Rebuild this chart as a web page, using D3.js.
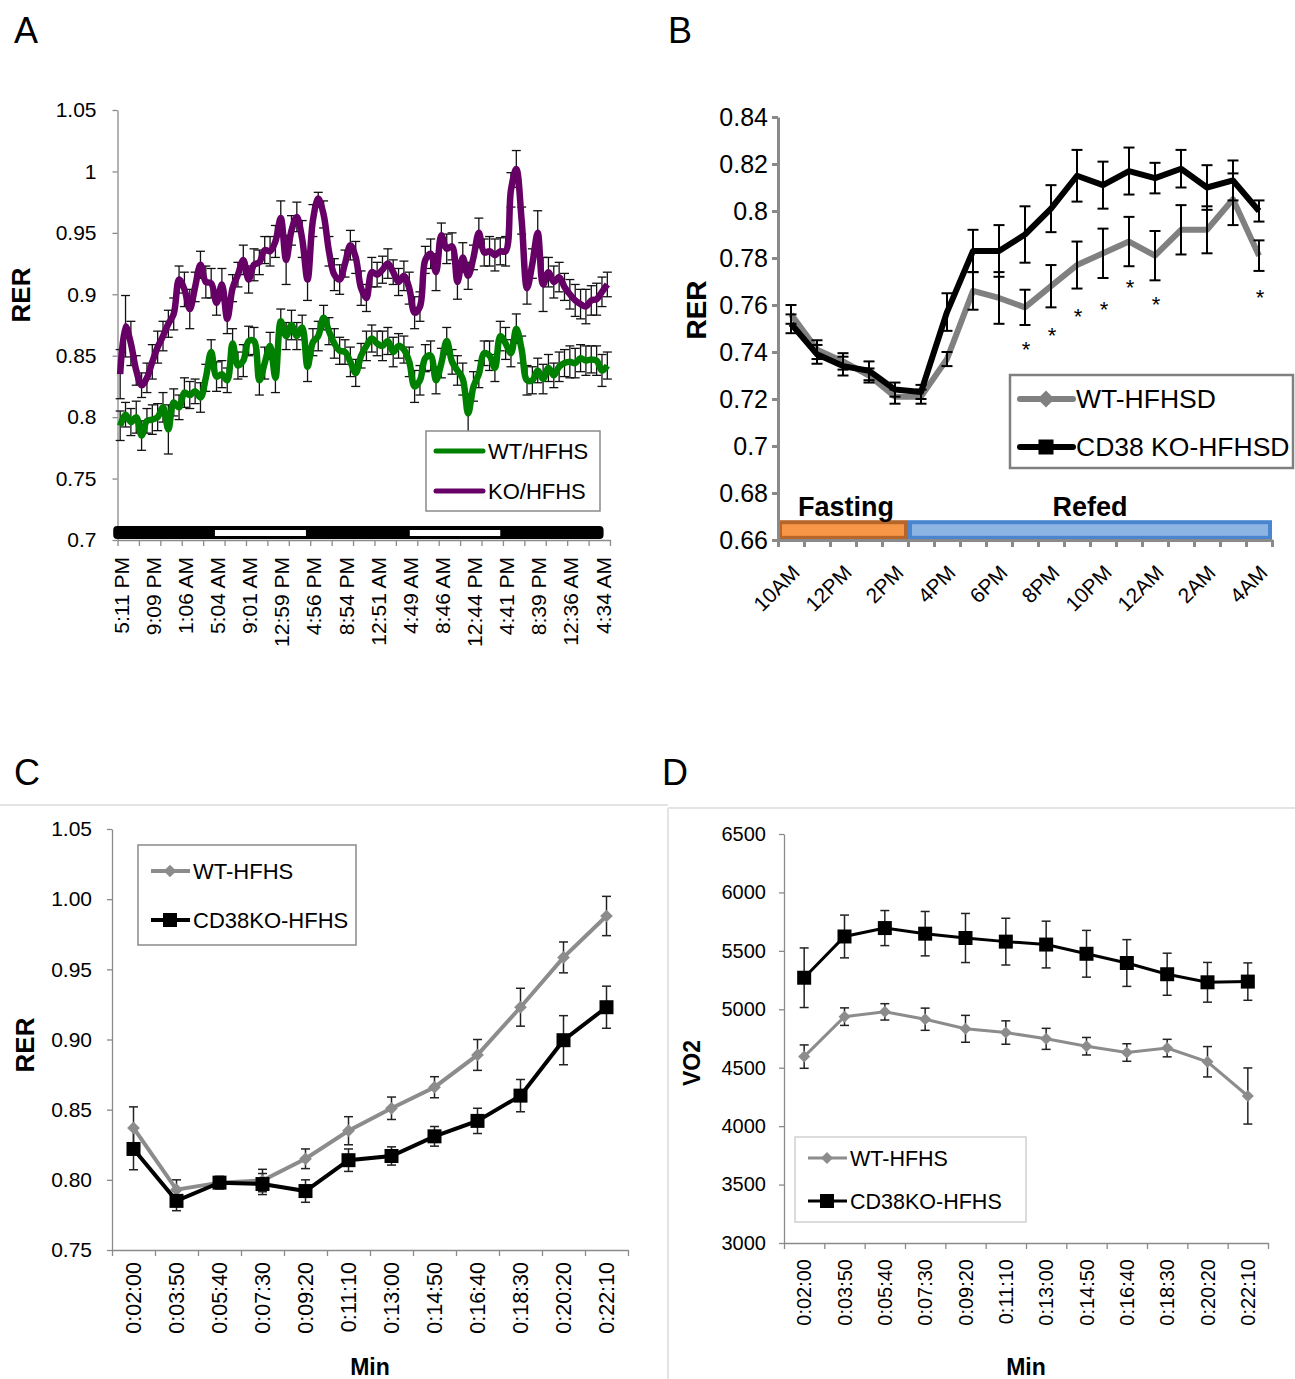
<!DOCTYPE html>
<html>
<head>
<meta charset="utf-8">
<script src="https://cdn.jsdelivr.net/npm/d3@7"></script>
<style>
  body { margin: 0; background: #fff; }
  svg { display: block; font-family: "Liberation Sans", Arial, sans-serif; }
</style>
</head>
<body>
<div id="chart"></div>
<script>
// ---------- Panel A : RER over ~3 days (92 samples) ----------
const aXLabels = ["5:11 PM","9:09 PM","1:06 AM","5:04 AM","9:01 AM","12:59 PM","4:56 PM","8:54 PM",
  "12:51 AM","4:49 AM","8:46 AM","12:44 PM","4:41 PM","8:39 PM","12:36 AM","4:34 AM"];
const aYTicks = [0.7, 0.75, 0.8, 0.85, 0.9, 0.95, 1, 1.05];
const aYTickLabels = ["0.7","0.75","0.8","0.85","0.9","0.95","1","1.05"];
const aWT = [0.793,0.802,0.796,0.800,0.785,0.797,0.798,0.800,0.808,0.790,
  0.812,0.808,0.820,0.818,0.821,0.816,0.832,0.853,0.833,0.835,
  0.830,0.860,0.842,0.846,0.862,0.862,0.830,0.844,0.858,0.832,
  0.878,0.866,0.875,0.866,0.873,0.841,0.861,0.866,0.881,0.870,
  0.860,0.854,0.853,0.845,0.836,0.850,0.858,0.864,0.860,0.858,
  0.862,0.853,0.858,0.855,0.845,0.825,0.830,0.848,0.850,0.830,
  0.844,0.862,0.845,0.838,0.831,0.803,0.825,0.835,0.852,0.850,
  0.840,0.866,0.860,0.852,0.872,0.855,0.830,0.830,0.838,0.831,
  0.840,0.834,0.841,0.844,0.845,0.844,0.848,0.846,0.847,0.846,
  0.838,0.842];
const aWTsem = [0.012,0.010,0.011,0.013,0.012,0.010,0.012,0.011,0.012,0.020,
  0.011,0.010,0.012,0.011,0.010,0.012,0.011,0.010,0.012,0.011,
  0.010,0.012,0.011,0.013,0.012,0.011,0.012,0.013,0.011,0.012,
  0.010,0.011,0.012,0.011,0.010,0.012,0.011,0.012,0.010,0.011,
  0.012,0.011,0.010,0.012,0.011,0.010,0.012,0.011,0.010,0.012,
  0.011,0.012,0.010,0.011,0.012,0.013,0.012,0.011,0.012,0.011,
  0.012,0.011,0.010,0.012,0.013,0.016,0.012,0.011,0.010,0.012,
  0.011,0.012,0.013,0.011,0.012,0.011,0.012,0.011,0.010,0.012,
  0.011,0.010,0.012,0.011,0.013,0.012,0.011,0.012,0.011,0.012,
  0.013,0.011];
const aKO = [0.835,0.874,0.860,0.838,0.826,0.832,0.845,0.857,0.866,0.876,
  0.884,0.912,0.904,0.888,0.906,0.924,0.910,0.909,0.893,0.908,
  0.880,0.905,0.916,0.928,0.912,0.924,0.926,0.936,0.935,0.943,
  0.962,0.928,0.952,0.963,0.945,0.912,0.960,0.978,0.965,0.935,
  0.916,0.912,0.925,0.940,0.930,0.905,0.897,0.918,0.916,0.920,
  0.925,0.918,0.910,0.915,0.905,0.885,0.890,0.928,0.933,0.918,
  0.948,0.937,0.939,0.910,0.930,0.915,0.930,0.950,0.934,0.935,
  0.932,0.935,0.935,0.985,1.002,0.960,0.905,0.925,0.950,0.908,
  0.918,0.910,0.914,0.906,0.900,0.895,0.892,0.890,0.895,0.896,
  0.902,0.908];
const aKOsem = [0.020,0.025,0.018,0.012,0.010,0.012,0.014,0.013,0.012,0.011,
  0.013,0.011,0.014,0.016,0.012,0.011,0.013,0.012,0.010,0.013,
  0.012,0.011,0.010,0.012,0.011,0.013,0.010,0.011,0.012,0.013,
  0.014,0.020,0.012,0.012,0.015,0.017,0.013,0.005,0.011,0.012,
  0.013,0.012,0.011,0.012,0.013,0.014,0.011,0.012,0.010,0.011,
  0.012,0.010,0.011,0.012,0.013,0.013,0.012,0.011,0.012,0.015,
  0.010,0.012,0.011,0.014,0.012,0.011,0.010,0.012,0.011,0.012,
  0.013,0.011,0.012,0.014,0.015,0.011,0.013,0.012,0.018,0.022,
  0.012,0.013,0.012,0.011,0.012,0.013,0.012,0.014,0.012,0.013,
  0.012,0.010];
const aDarkBar = [-0.8, 90.8];              // category span of the light/dark strip
const aLightPhases = [[18.2, 35.2], [54.6, 71.5]];

// ---------- Panel B : fasting / refeeding RER ----------
const bHours = ["10AM","11AM","12PM","1PM","2PM","3PM","4PM","5PM","6PM","7PM",
  "8PM","9PM","10PM","11PM","12AM","1AM","2AM","3AM","4AM"];
const bYTicks = [0.66,0.68,0.7,0.72,0.74,0.76,0.78,0.8,0.82,0.84];
const bYTickLabels = ["0.66","0.68","0.7","0.72","0.74","0.76","0.78","0.8","0.82","0.84"];
const bWT = [0.756,0.741,0.736,0.730,0.721,0.721,0.737,0.766,0.763,0.759,
  0.768,0.777,0.782,0.787,0.781,0.792,0.792,0.805,0.781];
const bWTsem = [0.004,0.004,0.0035,0.003,0.003,0.003,0.003,0.008,0.011,0.0075,
  0.009,0.010,0.0105,0.0105,0.0105,0.0105,0.010,0.011,0.0065];
const bKO = [0.752,0.739,0.734,0.732,0.724,0.723,0.757,0.783,0.783,0.790,
  0.801,0.815,0.811,0.817,0.814,0.818,0.810,0.813,0.800];
const bKOsem = [0.004,0.004,0.004,0.004,0.003,0.003,0.008,0.009,0.011,0.012,
  0.010,0.011,0.010,0.010,0.0065,0.008,0.0095,0.0085,0.0045];
const bStarIdx = [9,10,11,12,13,14,18];
const bStarVal = [0.743,0.749,0.757,0.760,0.7695,0.7622,0.765];
const bPhases = [{name:"Fasting", from:0, to:5}, {name:"Refed", from:5, to:19}];

// ---------- Panels C and D : exercise test ----------
const cTimes = ["0:02:00","0:03:50","0:05:40","0:07:30","0:09:20","0:11:10",
  "0:13:00","0:14:50","0:16:40","0:18:30","0:20:20","0:22:10"];
const cYTicks = [0.75,0.8,0.85,0.9,0.95,1.0,1.05];
const cWT = [0.837,0.793,0.798,0.7995,0.815,0.835,0.851,0.866,0.889,0.923,0.9585,0.988];
const cWTsem = [0.015,0.007,0.004,0.008,0.007,0.010,0.008,0.0075,0.011,0.0135,0.011,0.014];
const cKO = [0.822,0.785,0.798,0.797,0.792,0.814,0.817,0.831,0.842,0.860,0.8995,0.923];
const cKOsem = [0.0148,0.007,0.0045,0.0075,0.008,0.008,0.0065,0.007,0.009,0.0115,0.0175,0.015];

const dYTicks = [3000,3500,4000,4500,5000,5500,6000,6500];
const dWT = [4595,4937,4978,4915,4833,4801,4747,4684,4630,4668,4551,4258];
const dWTsem = [100,75,70,95,115,100,90,75,75,75,130,240];
const dKO = [5270,5623,5695,5647,5610,5579,5554,5475,5396,5300,5231,5237];
const dKOsem = [255,183,150,190,210,200,200,200,200,180,170,160];

// ---------- drawing ----------
const svg = d3.select("#chart").append("svg")
  .attr("width", 1295)
  .attr("height", 1379);

function styleAxis(g, color, width) {
  g.select(".domain").attr("stroke", color).attr("stroke-width", width);
  g.selectAll(".tick line").attr("stroke", color).attr("stroke-width", width);
  g.selectAll(".tick text").attr("fill", "#000");
}

function errorBars(g, x, y, vals, sems, cap, color, width) {
  vals.forEach((v, i) => {
    const cx = x(i + 0.5);
    const y0 = y(v - sems[i]), y1 = y(v + sems[i]);
    g.append("line").attr("x1", cx).attr("x2", cx).attr("y1", y0).attr("y2", y1)
      .attr("stroke", color).attr("stroke-width", width);
    [y0, y1].forEach(yy => g.append("line")
      .attr("x1", cx - cap / 2).attr("x2", cx + cap / 2).attr("y1", yy).attr("y2", yy)
      .attr("stroke", color).attr("stroke-width", width));
  });
}

function marker(g, type, x, y, side, fill) {
  g.append("path")
    .attr("d", d3.symbol().type(d3.symbolSquare).size(side * side)())
    .attr("transform", `translate(${x},${y})` + (type === "diamond" ? " rotate(45)" : ""))
    .attr("fill", fill);
}

function label(text, x, y, size, opts = {}) {
  const t = svg.append("text").attr("x", x).attr("y", y)
    .attr("font-size", size).attr("fill", "#000").text(text);
  if (opts.bold) t.attr("font-weight", "bold");
  if (opts.anchor) t.attr("text-anchor", opts.anchor);
  if (opts.rotate) t.attr("transform", `rotate(${opts.rotate},${x},${y})`);
  return t;
}

// panel borders (faint frame of the lower images)
svg.append("line").attr("x1", 0).attr("x2", 668).attr("y1", 805).attr("y2", 805)
  .attr("stroke", "#e4e4e4").attr("stroke-width", 2);
svg.append("line").attr("x1", 668).attr("x2", 1295).attr("y1", 808).attr("y2", 808)
  .attr("stroke", "#e4e4e4").attr("stroke-width", 2);
svg.append("line").attr("x1", 668).attr("x2", 668).attr("y1", 808).attr("y2", 1379)
  .attr("stroke", "#e4e4e4").attr("stroke-width", 2);

// ===== Panel A =====
{
  const x = d3.scaleLinear().domain([0, 92]).range([117.5, 610]);
  const y = d3.scaleLinear().domain([0.7, 1.05]).range([540, 110]);
  const g = svg.append("g");

  const ya = g.append("g").attr("transform", "translate(117.5,0)")
    .call(d3.axisLeft(y).tickValues(aYTicks).tickFormat((d, i) => aYTickLabels[i])
      .tickSize(5).tickSizeOuter(0).tickPadding(16));
  styleAxis(ya, "#8a8a8a", 1.3);
  ya.selectAll(".tick text").attr("font-size", 21);

  const xa = g.append("g").attr("transform", "translate(0,540)")
    .call(d3.axisBottom(x).tickValues(d3.range(0, 93, 4)).tickFormat("").tickSize(6).tickSizeOuter(0));
  styleAxis(xa, "#8a8a8a", 1.3);

  aXLabels.forEach((t, j) => {
    const cx = x(6 * j + 0.5);
    g.append("text").attr("transform", `translate(${cx + 1},557) rotate(-90)`)
      .attr("text-anchor", "end").attr("dy", "0.36em").attr("font-size", 21).text(t);
  });

  // light/dark strip
  g.append("rect").attr("x", x(aDarkBar[0])).attr("width", x(aDarkBar[1]) - x(aDarkBar[0]))
    .attr("y", 526).attr("height", 13).attr("rx", 4).attr("fill", "#000");
  aLightPhases.forEach(p => g.append("rect").attr("x", x(p[0])).attr("width", x(p[1]) - x(p[0]))
    .attr("y", 530).attr("height", 6).attr("fill", "#fff"));

  const eb = g.append("g");
  errorBars(eb, x, y, aKO, aKOsem, 9, "#111", 1.3);
  errorBars(eb, x, y, aWT, aWTsem, 9, "#111", 1.3);

  const line = d3.line().x((d, i) => x(i + 0.5)).y(d => y(d)).curve(d3.curveCatmullRom.alpha(0.5));
  g.append("path").datum(aKO).attr("d", line).attr("fill", "none")
    .attr("stroke", "#660066").attr("stroke-width", 6.5).attr("stroke-linejoin", "round");
  g.append("path").datum(aWT).attr("d", line).attr("fill", "none")
    .attr("stroke", "#008000").attr("stroke-width", 6.5).attr("stroke-linejoin", "round");

  // legend
  g.append("rect").attr("x", 426).attr("y", 431).attr("width", 174).attr("height", 80)
    .attr("fill", "#fff").attr("stroke", "#8a8a8a").attr("stroke-width", 1.5);
  [["WT/HFHS", "#008000", 451], ["KO/HFHS", "#660066", 491]].forEach(([t, c, ly]) => {
    g.append("line").attr("x1", 436).attr("x2", 483).attr("y1", ly).attr("y2", ly)
      .attr("stroke", c).attr("stroke-width", 5).attr("stroke-linecap", "round");
    g.append("text").attr("x", 488).attr("y", ly + 8).attr("font-size", 22).text(t);
  });

  label("A", 14, 43, 36);
  label("RER", 30, 295, 26, { bold: true, anchor: "middle", rotate: -90 });
}

// ===== Panel B =====
{
  const x = d3.scaleLinear().domain([0, bHours.length]).range([778, 1272]);
  const y = d3.scaleLinear().domain([0.66, 0.84]).range([540, 117]);
  const g = svg.append("g");

  // fasting / refed strips
  const phaseStyle = { Fasting: ["#f79646", "#b7662b"], Refed: ["#8eb4e3", "#4a86d0"] };
  bPhases.forEach(p => {
    g.append("rect").attr("x", x(p.from) + 2).attr("width", x(p.to) - x(p.from) - 4)
      .attr("y", y(0.668) + 1).attr("height", y(0.6605) - y(0.668) - 2)
      .attr("fill", phaseStyle[p.name][0]).attr("stroke", phaseStyle[p.name][1]).attr("stroke-width", 4);
  });
  label("Fasting", 846, 516, 27, { bold: true, anchor: "middle" });
  label("Refed", 1090, 516, 27, { bold: true, anchor: "middle" });

  const ya = g.append("g").attr("transform", "translate(778,0)")
    .call(d3.axisLeft(y).tickValues(bYTicks).tickFormat((d, i) => bYTickLabels[i])
      .tickSize(6).tickSizeOuter(0).tickPadding(4));
  styleAxis(ya, "#8a8a8a", 3);
  ya.selectAll(".tick text").attr("font-size", 25);

  const xa = g.append("g").attr("transform", "translate(0,540)")
    .call(d3.axisBottom(x).tickValues(d3.range(0, bHours.length + 1)).tickFormat("").tickSize(7).tickSizeOuter(0));
  styleAxis(xa, "#8a8a8a", 3);

  bHours.forEach((t, i) => {
    if (i % 2) return;
    const cx = x(i + 0.5);
    g.append("text").attr("transform", `translate(${cx + 10},574) rotate(-45)`)
      .attr("text-anchor", "end").attr("font-size", 21).text(t);
  });

  const line = d3.line().x((d, i) => x(i + 0.5)).y(d => y(d));
  g.append("path").datum(bWT).attr("d", line).attr("fill", "none")
    .attr("stroke", "#808080").attr("stroke-width", 6).attr("stroke-linejoin", "round");
  g.append("path").datum(bKO).attr("d", line).attr("fill", "none")
    .attr("stroke", "#000").attr("stroke-width", 6).attr("stroke-linejoin", "round");
  const eb = g.append("g");
  errorBars(eb, x, y, bWT, bWTsem, 11, "#000", 2);
  errorBars(eb, x, y, bKO, bKOsem, 11, "#000", 2);

  bStarIdx.forEach((k, j) => {
    g.append("text").attr("x", x(k + 0.5) + 1).attr("y", y(bStarVal[j]) + 12)
      .attr("text-anchor", "middle").attr("font-size", 22).text("*");
  });

  // legend
  g.append("rect").attr("x", 1010).attr("y", 375).attr("width", 283).attr("height", 93)
    .attr("fill", "#fff").attr("stroke", "#808080").attr("stroke-width", 2.5);
  [["WT-HFHSD", "#808080", "diamond", 399], ["CD38 KO-HFHSD", "#000", "square", 447]].forEach(([t, c, m, ly]) => {
    g.append("line").attr("x1", 1020).attr("x2", 1073).attr("y1", ly).attr("y2", ly)
      .attr("stroke", c).attr("stroke-width", 6).attr("stroke-linecap", "round");
    marker(g, m, 1046, ly, m === "diamond" ? 12 : 15, c);
    g.append("text").attr("x", 1076).attr("y", ly + 9).attr("font-size", 26.5).text(t);
  });

  label("B", 668, 43, 36);
  label("RER", 706, 310, 28, { bold: true, anchor: "middle", rotate: -90 });
}

// ===== Panels C & D (shared layout) =====
function exercisePanel(cfg) {
  const x = d3.scaleLinear().domain([0, cTimes.length]).range(cfg.xr);
  const y = d3.scaleLinear().domain(cfg.yd).range(cfg.yr);
  const g = svg.append("g");

  const ya = g.append("g").attr("transform", `translate(${cfg.xr[0]},0)`)
    .call(d3.axisLeft(y).tickValues(cfg.yTicks).tickFormat(cfg.fmt)
      .tickSize(5).tickSizeOuter(0).tickPadding(cfg.yPad));
  styleAxis(ya, "#8a8a8a", 1.3);
  ya.selectAll(".tick text").attr("font-size", cfg.yFont);

  const xa = g.append("g").attr("transform", `translate(0,${cfg.yr[0]})`)
    .call(d3.axisBottom(x).tickValues(d3.range(0, cTimes.length + 1)).tickFormat("").tickSize(6).tickSizeOuter(0));
  styleAxis(xa, "#8a8a8a", 1.3);

  cTimes.forEach((t, i) => {
    g.append("text").attr("transform", `translate(${x(i + 0.5)},${cfg.yr[0] + cfg.xOff}) rotate(-90)`)
      .attr("text-anchor", "end").attr("dy", "0.36em").attr("font-size", cfg.xFont).text(t);
  });

  const line = d3.line().x((d, i) => x(i + 0.5)).y(d => y(d));
  const eb = g.append("g");
  errorBars(eb, x, y, cfg.wt, cfg.wtSem, 9, "#222", 1.5);
  errorBars(eb, x, y, cfg.ko, cfg.koSem, 9, "#222", 1.5);
  g.append("path").datum(cfg.wt).attr("d", line).attr("fill", "none")
    .attr("stroke", "#8c8c8c").attr("stroke-width", cfg.lw);
  cfg.wt.forEach((v, i) => marker(g, "diamond", x(i + 0.5), y(v), cfg.dia, "#8c8c8c"));
  g.append("path").datum(cfg.ko).attr("d", line).attr("fill", "none")
    .attr("stroke", "#000").attr("stroke-width", cfg.lw);
  cfg.ko.forEach((v, i) => marker(g, "square", x(i + 0.5), y(v), cfg.sq, "#000"));

  const L = cfg.legend;
  g.append("rect").attr("x", L.x).attr("y", L.y).attr("width", L.w).attr("height", L.h)
    .attr("fill", "#fff").attr("stroke", L.stroke).attr("stroke-width", 1.5);
  [["WT-HFHS", "#8c8c8c", "diamond", L.r1], ["CD38KO-HFHS", "#000", "square", L.r2]].forEach(([t, c, m, ly]) => {
    g.append("line").attr("x1", L.x + 13).attr("x2", L.x + 52).attr("y1", ly).attr("y2", ly)
      .attr("stroke", c).attr("stroke-width", cfg.lw);
    marker(g, m, L.x + 32, ly, m === "diamond" ? cfg.dia : cfg.sq, c);
    g.append("text").attr("x", L.x + 55).attr("y", ly + 8).attr("font-size", L.font).text(t);
  });

  label(cfg.title, cfg.titleX, 785, 36);
  label(cfg.yLabel, cfg.yLabelX, cfg.yLabelY, cfg.yLabelFont, { bold: true, anchor: "middle", rotate: -90 });
  label("Min", (cfg.xr[0] + cfg.xr[1]) / 2, 1375, 23, { bold: true, anchor: "middle" });
}

exercisePanel({
  xr: [112, 628], yd: [0.75, 1.05], yr: [1250, 829], yTicks: cYTicks, fmt: d3.format(".2f"),
  yPad: 15, yFont: 21, xFont: 21.5, xOff: 12, wt: cWT, wtSem: cWTsem, ko: cKO, koSem: cKOsem,
  lw: 4, dia: 9, sq: 14,
  legend: { x: 138, y: 845, w: 218, h: 100, r1: 871, r2: 920, font: 22, stroke: "#8a8a8a" },
  title: "C", titleX: 14, yLabel: "RER", yLabelX: 34, yLabelY: 1045, yLabelFont: 26
});

exercisePanel({
  xr: [784, 1268], yd: [3000, 6500], yr: [1243, 834], yTicks: dYTicks, fmt: d3.format("d"),
  yPad: 13, yFont: 20, xFont: 20, xOff: 16, wt: dWT, wtSem: dWTsem, ko: dKO, koSem: dKOsem,
  lw: 3, dia: 8.5, sq: 14,
  legend: { x: 795, y: 1137, w: 231, h: 85, r1: 1158, r2: 1201, font: 21.5, stroke: "#cfcfcf" },
  title: "D", titleX: 662, yLabel: "VO2", yLabelX: 700, yLabelY: 1063, yLabelFont: 23
});
</script>
</body>
</html>
